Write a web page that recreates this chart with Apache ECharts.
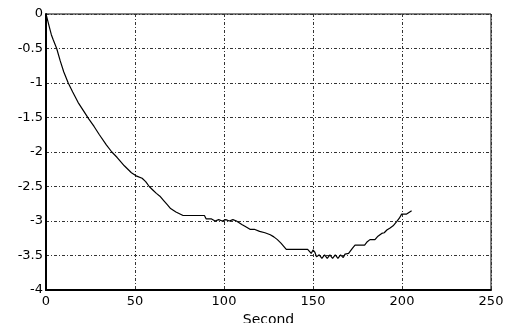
<!DOCTYPE html>
<html><head><meta charset="utf-8">
<script src="https://cdn.jsdelivr.net/npm/echarts@6/dist/echarts.min.js"></script>
<style>html,body{margin:0;padding:0;background:#fff}#c{width:513px;height:323px}</style>
</head><body><div id="c"></div>
<script>
const xTicks = [0, 50, 100, 150, 200, 250];
const yTicks = [0, -0.5, -1, -1.5, -2, -2.5, -3, -3.5, -4];
const timeSec = [0,1,2,3,4,6,8,10,12.5,15,18,21,24,27,30,34,37,40,44,48,51,54,56,58,60,62,64,66,68,70,73,77,89,90,91,93,95,97,99,101,103,105,107,108,110,112,114.6,117,120,123,126,128,130,132,135,147,149,150,151,152,153.5,155,156.5,158,159.5,161,162.5,164,165.5,167,168,170,172,173.6,179,180.5,182,184.8,186.5,188.6,190,191.5,193.3,195,197,198.5,199.8,202.6,203.5,205.4];
const values = [0,-0.1,-0.2,-0.3,-0.37,-0.5,-0.68,-0.84,-1.0,-1.13,-1.28,-1.4,-1.52,-1.63,-1.75,-1.9,-2.0,-2.08,-2.2,-2.3,-2.35,-2.38,-2.43,-2.5,-2.55,-2.6,-2.64,-2.7,-2.76,-2.82,-2.87,-2.92,-2.92,-2.97,-2.99,-2.97,-3.0,-2.98,-3.0,-2.98,-3.0,-2.98,-3.0,-3.0,-3.05,-3.08,-3.12,-3.12,-3.15,-3.17,-3.2,-3.23,-3.27,-3.32,-3.41,-3.41,-3.47,-3.42,-3.45,-3.52,-3.49,-3.54,-3.49,-3.54,-3.49,-3.54,-3.49,-3.54,-3.49,-3.53,-3.48,-3.47,-3.4,-3.35,-3.35,-3.3,-3.27,-3.27,-3.22,-3.18,-3.17,-3.13,-3.1,-3.07,-3.01,-2.96,-2.9,-2.9,-2.88,-2.85];
const xName = 'Second';

const font = 'DejaVu Sans, Arial, sans-serif';
const chart = echarts.init(document.getElementById('c'));
const gridStyle = {color:'#333', width:1, type:[3,2,1,2]};
chart.setOption({
  animation:false,
  grid:{left:46,right:22,top:14,bottom:33,outerBoundsMode:'none',containLabel:false,
    show:true,borderColor:'#000',borderWidth:1,backgroundColor:'#fff'},
  xAxis:{type:'value',min:xTicks[0],max:xTicks[xTicks.length-1],interval:50,
    name:xName,nameLocation:'middle',nameGap:20,
    nameTextStyle:{color:'#000',fontSize:14,fontFamily:font},
    axisLine:{show:true,onZero:false,lineStyle:{color:'#000',width:2}},
    axisTick:{show:false},
    axisLabel:{color:'#000',fontSize:13,margin:5,fontFamily:font},
    splitLine:{show:true,lineStyle:gridStyle}},
  yAxis:{type:'value',min:-4,max:0,interval:0.5,
    axisLine:{show:true,onZero:false,lineStyle:{color:'#000',width:2}},
    axisTick:{show:false},
    axisLabel:{color:'#000',fontSize:13,margin:3,fontFamily:font,
      formatter:v=>String(v)},
    splitLine:{show:true,lineStyle:gridStyle}},
  series:[{type:'line',data:timeSec.map((t,i)=>[t,values[i]]),showSymbol:false,
    lineStyle:{color:'#000',width:1.2}}]
});
</script></body></html>
